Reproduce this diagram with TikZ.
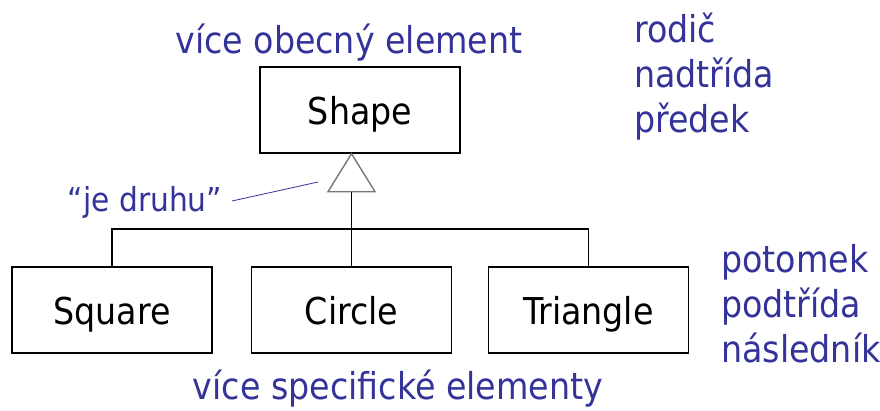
\documentclass[tikz,border=0pt]{standalone}
\usepackage{fontspec}
\setmainfont{DejaVu Sans Condensed}
\definecolor{lbl}{HTML}{333399}
\definecolor{gen}{HTML}{777777}
\begin{document}
\begin{tikzpicture}[x=1pt,y=-1pt,
  cls/.style={draw=black,line width=1.4pt,minimum width=200pt,minimum height=86pt,inner sep=0pt,
    text height=29pt,text depth=0pt,font=\fontsize{37}{44}\selectfont},
  note/.style={text=lbl,inner sep=0pt,font=\fontsize{37}{45}\selectfont,align=left},
  link/.style={draw=black,line width=1.4pt},
  genarrow/.style={draw=gen,line width=1.4pt,fill=white}]
\useasboundingbox[fill=white] (0,0) rectangle (880,410);
\node[cls] (shape) at (360,110) {Shape};
\node[cls] (square) at (112,310) {Square};
\node[cls] (circle) at (351.5,310) {Circle};
\node[cls] (tri) at (588.5,310) {Triangle};
\coordinate (apex) at (circle.north |- shape.south);
\draw[genarrow] (apex) -- ++(-23.5,38) coordinate (bl) -- ++(47,0) -- cycle;
\coordinate (base) at (circle.north |- bl);
\coordinate (bus) at (351.5,229);
\draw[link] (base) -- (circle.north);
\draw[link] (square.north) |- (bus) -| (tri.north);
\node[note,anchor=base] (gen1) at (349,53) {více obecný element};
\node[note,anchor=north west] (par) at (634,13) {rodič\\nadtřída\\předek};
\node[note,anchor=north west] (chl) at (721,244) {potomek\\podtřída\\následník};
\node[note,anchor=base] (spec) at (398,399) {více specifické elementy};
\node[note,anchor=base,font=\fontsize{33}{45}\selectfont] (kind) at (145,211) {“je druhu”};
\coordinate (ps) at (232,201);
\coordinate (pe) at (318,182);
\draw[lbl,line width=0.8pt] (ps) -- (pe);
\end{tikzpicture}
\end{document}
